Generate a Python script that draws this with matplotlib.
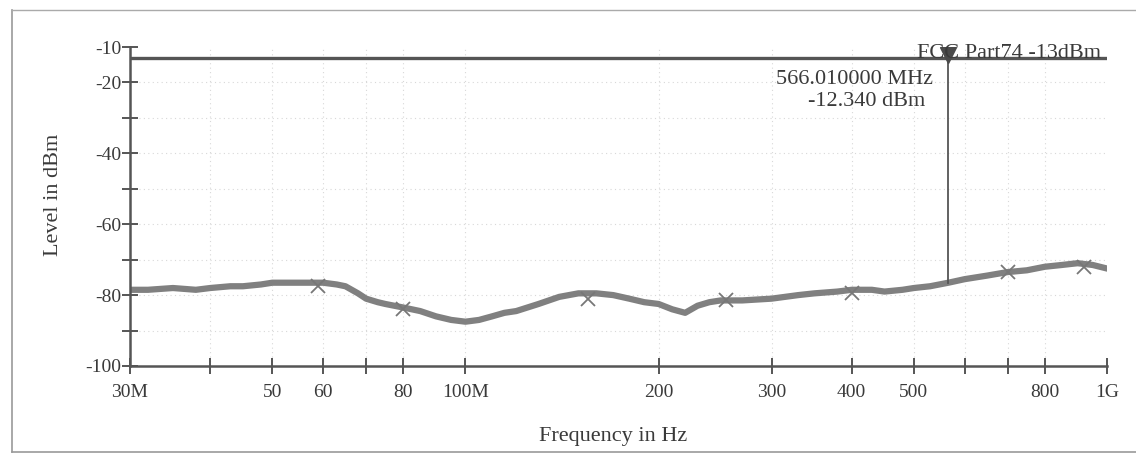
"""
Spectrum scan 30 MHz - 1 GHz with FCC Part74 limit line and a peak marker
"""

from matplotlib import pyplot as plt
from matplotlib.lines import Line2D
from matplotlib.ticker import FixedLocator, FixedFormatter, NullLocator


# trace (MHz, dBm)
freq_mhz = [30, 32, 35, 38, 40, 43, 45, 48, 50, 53, 55, 58, 60, 63, 65, 68, 70, 73, 75,
            80, 85, 90, 95, 100, 105, 110, 115, 120, 130, 140, 150, 160, 170, 180, 190,
            200, 210, 220, 230, 240, 250, 270, 300, 330, 350, 380, 400, 430, 450, 480,
            500, 530, 566, 600, 650, 700, 750, 800, 850, 900, 950, 1000]
level_dbm = [-78.5, -78.5, -78, -78.5, -78, -77.5, -77.5, -77, -76.5, -76.5, -76.5, -76.5,
             -76.5, -77, -77.5, -79.5, -81, -82, -82.5, -83.5, -84.5, -86, -87, -87.5,
             -87, -86, -85, -84.5, -82.5, -80.5, -79.5, -79.5, -80, -81, -82, -82.5, -84,
             -85, -83, -82, -81.5, -81.5, -81, -80, -79.5, -79, -78.5, -78.5, -79, -78.5,
             -78, -77.5, -76.5, -75.5, -74.5, -73.5, -73, -72, -71.5, -71, -71.5, -72.5]

# peak detector crosses
peak_freq = [59, 80, 155, 255, 400, 700, 920]
peak_level = [-77.5, -84, -81, -81.5, -79.5, -73.5, -72]

limit_dbm = -13
marker_freq = 566.01
marker_level = -12.34
marker_trace = -76.5

x_ticks = [30, 40, 50, 60, 70, 80, 100, 200, 300, 400, 500, 600, 700, 800, 1000]
x_labels = ["30M", "", "50", "60", "", "80", "100M", "200", "300", "400", "500", "", "", "800", "1G"]
y_ticks = [-10, -20, -30, -40, -50, -60, -70, -80, -90, -100]
y_labels = ["-10", "-20", "", "-40", "", "-60", "", "-80", "", "-100"]

plt.rcParams["font.family"] = ["Liberation Serif", "DejaVu Serif"]
text_color = "#3a3a3a"
axis_color = "#555555"

W, H = 1136, 455
fig = plt.figure(figsize=(W / 100, H / 100), dpi=100)
ax = fig.add_axes([130 / W, 1 - 366 / H, 977 / W, 319 / H])

ax.set_xscale("log")
ax.set_xlim(30, 1000)
ax.set_ylim(-100, -10)

# faint dotted grid
for f in x_ticks[1:-1]:
    ax.axvline(f, color="#d8d8d8", lw=0.8, ls=(0, (1, 3)), zorder=0)
for lv in y_ticks[1:-1]:
    ax.axhline(lv, color="#d8d8d8", lw=0.8, ls=(0, (1, 3)), zorder=0)

# trace
ax.plot(freq_mhz, level_dbm, color="#808080", lw=4.5, solid_joinstyle="round", zorder=2)
ax.plot(peak_freq, peak_level, "x", color="#777777", ms=10, mew=1.3, zorder=3)

# limit line
ax.axhline(limit_dbm, color=axis_color, lw=2.4, zorder=3)

# marker
ax.plot([marker_freq, marker_freq], [marker_level, marker_trace], color="#555555", lw=1.3, zorder=4)
ax.plot(marker_freq, marker_level, "v", color="#4a4a4a", ms=11, zorder=5)

ax.xaxis.set_major_locator(FixedLocator(x_ticks))
ax.xaxis.set_major_formatter(FixedFormatter(x_labels))
ax.xaxis.set_minor_locator(NullLocator())
ax.yaxis.set_major_locator(FixedLocator(y_ticks))
ax.yaxis.set_major_formatter(FixedFormatter(y_labels))

ax.tick_params(axis="both", direction="inout", length=12, width=1.4, color=axis_color,
               labelcolor=text_color, labelsize=14)
ax.tick_params(axis="x", pad=7)
ax.tick_params(axis="y", pad=0)

for side in ["top", "right"]:
    ax.spines[side].set_visible(False)
for side in ["left", "bottom"]:
    ax.spines[side].set_color(axis_color)
    ax.spines[side].set_linewidth(1.8)

ax.set_ylabel("Level in dBm", fontsize=16, color=text_color)
ax.yaxis.set_label_coords(-0.069, 0.535)
fig.text(613 / W, 1 - 437 / H, "Frequency in Hz", ha="center", va="center", fontsize=16, color=text_color)

fig.text(1101 / W, 1 - 54 / H, "FCC Part74 -13dBm", ha="right", va="center", fontsize=16, color=text_color)
fig.text(933 / W, 1 - 80 / H, "566.010000 MHz", ha="right", va="center", fontsize=16, color=text_color)
fig.text(925 / W, 1 - 101 / H, "-12.340 dBm", ha="right", va="center", fontsize=16, color=text_color)

# page frame from the scan
fig.add_artist(Line2D([12 / W, 12 / W], [1 - 10 / H, 1 - 452 / H], color="#999999", lw=1.2))
fig.add_artist(Line2D([12 / W, 1], [1 - 10 / H, 1 - 10 / H], color="#aaaaaa", lw=1.0))
fig.add_artist(Line2D([12 / W, 1], [1 - 452 / H, 1 - 452 / H], color="#999999", lw=1.2))

fig.savefig("out.png", dpi=100)
